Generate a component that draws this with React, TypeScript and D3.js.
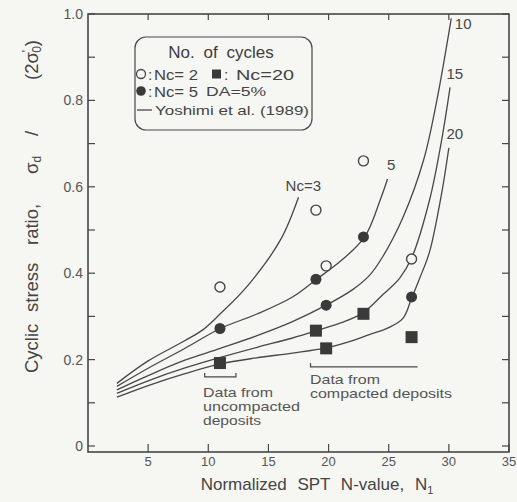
import React from "react";
import * as d3 from "d3";

// N1 values and CSR
const nX = [10.97, 18.95, 19.8, 22.9, 26.9];
const nc2Csr = [0.368, 0.546, 0.417, 0.66, 0.433];
const nc5Csr = [0.272, 0.386, 0.326, 0.484, 0.345];
const nc20Csr = [0.192, 0.267, 0.226, 0.306, 0.252];

// Yoshimi et al. (1989) curves, [N1, CSR]
const curve3 = [[2.4, 0.145], [5, 0.197], [8, 0.243], [9.6, 0.27], [11, 0.306], [13.3, 0.372], [16, 0.477], [17.5, 0.576]];
const curve5 = [[2.4, 0.138], [5, 0.18], [8, 0.225], [11, 0.272], [14, 0.305], [17, 0.345], [19, 0.386], [21, 0.428], [23, 0.484], [24.3, 0.57], [24.9, 0.618]];
const curve10 = [[2.4, 0.13], [5, 0.163], [8, 0.198], [11, 0.226], [14, 0.255], [17, 0.288], [19.8, 0.326], [22, 0.362], [23.4, 0.395], [24.5, 0.438], [26.2, 0.53], [27.9, 0.662], [29, 0.8], [30.2, 0.99]];
const curve15 = [[2.4, 0.122], [5, 0.151], [8, 0.18], [11, 0.205], [14, 0.228], [17, 0.25], [19, 0.267], [21, 0.285], [22.8, 0.307], [24.5, 0.35], [25.9, 0.388], [26.9, 0.435], [28.4, 0.57], [29.4, 0.708], [30.1, 0.83]];
const curve20 = [[2.4, 0.113], [5, 0.14], [8, 0.167], [11, 0.19], [14, 0.204], [17, 0.215], [19.8, 0.227], [22, 0.244], [23.4, 0.258], [25, 0.274], [26.2, 0.296], [26.9, 0.342], [27.6, 0.39], [28.4, 0.45], [29.4, 0.585], [30, 0.69]];
const curves = [curve3, curve5, curve10, curve15, curve20];
const curveLabels = ["Nc=3", "5", "10", "15", "20"];

const xTicks = [5, 10, 15, 20, 25, 30, 35];
const yTicks = [0, 0.2, 0.4, 0.6, 0.8, 1.0];
const yTickLabels = ["0", "0.2", "0.4", "0.6", "0.8", "1.0"];

const ink = "#474747";
const bg = "#f6f6f3";
const font = "'Liberation Sans', Arial, sans-serif";

export default function App() {
  const x = d3.scaleLinear().domain([0, 35]).range([88, 509]);
  const y = d3.scaleLinear().domain([0, 1]).range([446, 14]);
  const line = d3
    .line<number[]>()
    .x((d) => x(d[0]))
    .y((d) => y(d[1]))
    .curve(d3.curveCatmullRom.alpha(0.5));

  const bottom = 452;
  const minor = d3.range(0, 1.0001, 0.1);

  // label anchors at curve ends
  const labelPos = [
    [x(17.9), y(0.59), "middle"],
    [x(25.2), y(0.64), "middle"],
    [x(30.5), y(0.965), "start"],
    [x(29.8), y(0.85), "start"],
    [x(29.8), y(0.71), "start"],
  ];

  return (
    <svg
      width={517}
      height={502}
      style={{ position: "absolute", left: 0, top: 0, background: bg }}
      fontFamily={font}
    >
      <rect width={517} height={502} fill={bg} />
      {/* frame */}
      <rect x={x(0)} y={y(1)} width={x(35) - x(0)} height={bottom - y(1)} fill="none" stroke={ink} strokeWidth={1.6} />

      {/* y ticks, both sides */}
      {minor.map((v) => (
        <g key={v}>
          <line x1={x(0)} x2={x(0) + 7} y1={y(v)} y2={y(v)} stroke={ink} strokeWidth={1.2} />
          <line x1={x(35)} x2={x(35) - 7} y1={y(v)} y2={y(v)} stroke={ink} strokeWidth={1.2} />
        </g>
      ))}
      {yTicks.map((v, i) => (
        <text key={v} x={x(0) - 5} y={y(v) + 5} textAnchor="end" fontSize={14} fill="#555">
          {yTickLabels[i]}
        </text>
      ))}

      {/* x ticks, bottom and top */}
      {xTicks.map((v) => (
        <g key={v}>
          <line x1={x(v)} x2={x(v)} y1={bottom} y2={bottom - 8} stroke={ink} strokeWidth={1.2} />
          {v < 35 && <line x1={x(v)} x2={x(v)} y1={y(1)} y2={y(1) + 6} stroke={ink} strokeWidth={1.2} />}
          <text x={x(v)} y={bottom + 14} textAnchor="middle" fontSize={13} fill="#555">
            {v}
          </text>
        </g>
      ))}

      {/* curves */}
      {curves.map((c, i) => (
        <path key={i} d={line(c) || ""} fill="none" stroke={ink} strokeWidth={1.3} />
      ))}
      {curveLabels.map((t, i) => (
        <text
          key={t}
          x={labelPos[i][0] as number}
          y={labelPos[i][1] as number}
          textAnchor={labelPos[i][2] as string}
          fontSize={15}
          fill={ink}
        >
          {t}
        </text>
      ))}

      {/* data points */}
      {nX.map((n, i) => (
        <circle key={"o" + i} cx={x(n)} cy={y(nc2Csr[i])} r={5} fill={bg} stroke={ink} strokeWidth={1.4} />
      ))}
      {nX.map((n, i) => (
        <circle key={"f" + i} cx={x(n)} cy={y(nc5Csr[i])} r={5.5} fill="#3a3a3a" />
      ))}
      {nX.map((n, i) => (
        <rect key={"s" + i} x={x(n) - 6} y={y(nc20Csr[i]) - 6} width={12} height={12} fill="#3a3a3a" />
      ))}

      {/* brackets */}
      <path d={`M${x(9.7)},${y(0.16) - 4}V${y(0.16)}H${x(12.3)}V${y(0.16) - 4}`} fill="none" stroke={ink} strokeWidth={1.2} />
      <text fontSize={13} fill="#555">
        <tspan x={203} y={397} textLength={70} lengthAdjust="spacingAndGlyphs">Data from</tspan>
        <tspan x={203} y={411} textLength={97} lengthAdjust="spacingAndGlyphs">uncompacted</tspan>
        <tspan x={203} y={425} textLength={58} lengthAdjust="spacingAndGlyphs">deposits</tspan>
      </text>
      <path d={`M${x(18.5)},${y(0.183) - 4}V${y(0.183)}H${x(27.4)}`} fill="none" stroke={ink} strokeWidth={1.2} />
      <text fontSize={13} fill="#555">
        <tspan x={310} y={384} textLength={70} lengthAdjust="spacingAndGlyphs">Data from</tspan>
        <tspan x={310} y={398} textLength={142} lengthAdjust="spacingAndGlyphs">compacted deposits</tspan>
      </text>

      {/* legend */}
      <rect x={135} y={37} width={177} height={93} rx={11} fill="none" stroke={ink} strokeWidth={1.2} />
      <text x={221} y={58} textAnchor="middle" fontSize={17} fill="#3d3d3d" wordSpacing={4}>
        No. of cycles
      </text>
      <circle cx={141} cy={74} r={4.5} fill={bg} stroke={ink} strokeWidth={1.3} />
      <text x={148} y={79.5} fontSize={15.5} fill="#444">:</text>
      <text x={154} y={79.5} fontSize={15.5} fill="#444" textLength={44} lengthAdjust="spacingAndGlyphs">Nc= 2</text>
      <rect x={212} y={69.5} width={9} height={9} fill="#3a3a3a" />
      <text x={224} y={79.5} fontSize={15.5} fill="#444">:</text>
      <text x={236} y={79.5} fontSize={15.5} fill="#444" textLength={58} lengthAdjust="spacingAndGlyphs">Nc=20</text>
      <circle cx={141} cy={91} r={4.8} fill="#3a3a3a" />
      <text x={148} y={96.5} fontSize={15.5} fill="#444">:</text>
      <text x={154} y={96.5} fontSize={15.5} fill="#444" textLength={44} lengthAdjust="spacingAndGlyphs">Nc= 5</text>
      <text x={206} y={96} fontSize={12.5} fill="#444" textLength={60} lengthAdjust="spacingAndGlyphs">DA=5%</text>
      <line x1={137} x2={152} y1={110} y2={110} stroke={ink} strokeWidth={1.3} />
      <text x={155} y={114.5} fontSize={13} fill="#444" textLength={154} lengthAdjust="spacingAndGlyphs">
        Yoshimi et al. (1989)
      </text>

      {/* axis titles */}
      <text x={317} y={490} textAnchor="middle" fontSize={17} fill="#444" wordSpacing={6}>
        Normalized SPT N-value, N<tspan fontSize={11} dy={4}>1</tspan>
      </text>
      <g transform="translate(38,0) rotate(-90)" fontSize={18.5} fill="#444">
        <text x={-373} y={0}>Cyclic</text>
        <text x={-312} y={0}>stress</text>
        <text x={-245} y={0}>ratio,</text>
        <text x={-174} y={0}>
          σ<tspan fontSize={12} dy={3}>d</tspan>
        </text>
        <text x={-136} y={0}>/</text>
        <text x={-80} y={0}>
          (2σ<tspan fontSize={12} dy={-7}>'</tspan>
          <tspan fontSize={12} dx={-3} dy={10}>0</tspan>
          <tspan dy={-3}>)</tspan>
        </text>
      </g>
    </svg>
  );
}
